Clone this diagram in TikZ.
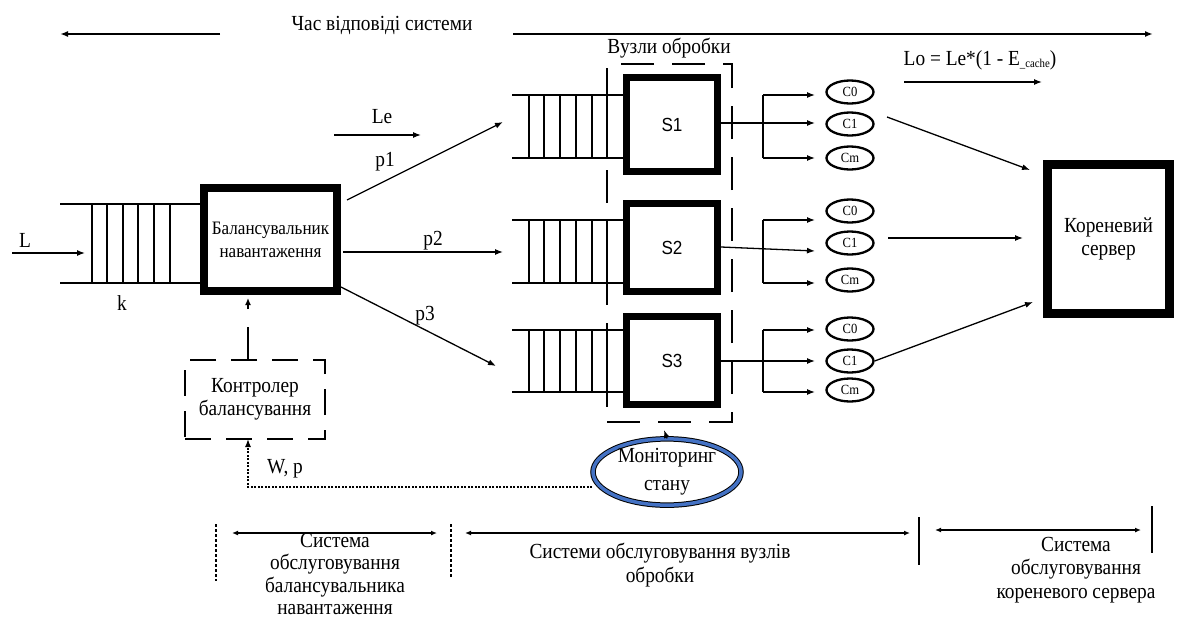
\documentclass[tikz,border=0pt]{standalone}
\usepackage{fontspec}
\setmainfont{Liberation Serif}[FakeStretch=0.9]
\newfontfamily\sansS{Liberation Sans}[FakeStretch=0.9]
\usetikzlibrary{arrows.meta,shapes.geometric,calc}
\definecolor{monblue}{RGB}{68,114,196}
\tikzset{
  ln/.style={line width=1.3pt},
  arr/.style={-{Latex[length=8pt,width=6pt]}},
  darr/.style={line width=1.8pt,{Latex[length=6pt,width=5pt]}-{Latex[length=6pt,width=5pt]}},
  txt/.style={font=\fontsize{21.5}{23.5}\selectfont, align=center, inner sep=0pt},
  thickbox/.style={draw, line width=8pt, inner sep=0pt, align=center},
  sbox/.style={draw, line width=7pt, inner sep=0pt, minimum width=91pt, font=\sansS\fontsize{19}{19}\selectfont},
  cnode/.style={ellipse, draw, line width=2.3pt, minimum width=47pt, minimum height=23pt, inner sep=0pt, font=\fontsize{14}{14}\selectfont},
  longdash/.style={draw, line width=1.5pt, dash pattern=on 30pt off 17pt},
  dotline/.style={line width=1.3pt, dash pattern=on 2pt off 1.5pt},
}
\begin{document}
\begin{tikzpicture}[x=1pt,y=-1pt]
\useasboundingbox (0,0) rectangle (1183,621);

% top
\node[txt] (resp) at (382,25) {Час відповіді системи};
\coordinate (tl1) at (220,34); \coordinate (tl2) at (60,34);
\coordinate (tr1) at (513,34); \coordinate (tr2) at (1153,34);
\draw[line width=2pt,arr] (tl1) -- (tl2);
\draw[line width=2pt,arr] (tr1) -- (tr2);

% balancer
\node[thickbox, minimum width=133pt, minimum height=103pt, font=\fontsize{19}{23}\selectfont] (bal) at (270.5,239.5) {Балансувальник\\навантаження};
\draw[ln] (60,204) -- (bal.west |- 0,204);
\draw[ln] (60,283) -- (bal.west |- 0,283);
\foreach \x in {92,107,123,138,154,170} \draw[ln] (\x,204) -- (\x,283);
\node[txt] (L) at (25,240) {L};
\coordinate (Ls) at (12,253); \coordinate (Le) at (85,253);
\draw[ln,arr] (Ls) -- (Le);
\node[txt] (k) at (122,303) {k};

% controller
\node[longdash, dash pattern=on 26pt off 15pt, minimum width=140pt, minimum height=79pt, txt] (ctrl) at (255,399.5) {Контролер\\балансування};
\coordinate (cu1) at (248,327); \coordinate (cu2) at (248,309); \coordinate (cu3) at (248,298);
\draw[ln] (ctrl.north -| cu1) -- (cu1);
\draw[ln,-{Latex[length=7pt,width=6pt]}] (cu2) -- (cu3);

% processing nodes
\node[longdash, dash pattern=on 33pt off 18pt, minimum width=125pt, minimum height=358pt] (proc) at (669.5,243) {};
\node[txt] (proclbl) at (669,48) {Вузли обробки};
\node[sbox, minimum height=94pt] (S1) at (672,124.5) {S1};
\node[sbox, minimum height=88pt] (S2) at (672,247.5) {S2};
\node[sbox, minimum height=88pt] (S3) at (672,360.5) {S3};
\foreach \s/\a/\b in {S1/95/158, S2/220/283, S3/330/392} {
  \draw[ln] (512,\a) -- (\s.west |- 0,\a);
  \draw[ln] (512,\b) -- (\s.west |- 0,\b);
  \foreach \x in {529,544,560,576,592,607} \draw[ln] (\x,\a) -- (\x,\b);
}

% caches
\foreach \n/\y/\t in {10/92/C0, 11/124/C1, 12/158/Cm, 20/211/C0, 21/243/C1, 22/280/Cm, 30/329/C0, 31/361/C1, 32/390/Cm}
  \node[cnode] (C\n) at (850,\y) {\t};

\foreach \s/\m/\mm/\a/\b in {S1/123/123/95/158, S2/247/251/220/283, S3/361/361/330/392} {
  \draw[ln] (763,\a) -- (763,\b);
  \draw[ln,arr] (\s.east |- 0,\m) -- (815,\mm);
  \draw[ln,arr] (763,\a) -- (815,\a);
  \draw[ln,arr] (763,\b) -- (815,\b);
}

% root server
\node[thickbox, line width=9pt, minimum width=122pt, minimum height=149pt, txt, inner sep=0pt] (root) at (1108.5,239) {Кореневий\\сервер};
\coordinate (r1s) at (887,117); \coordinate (r1e) at (1030,170);
\coordinate (r2s) at (888,238); \coordinate (r2e) at (1023,238);
\coordinate (r3e) at (1033,302);
\draw[ln,arr] (r1s) -- (r1e);
\draw[ln,arr] (r2s) -- (r2e);
\draw[ln,arr] (C31.east) -- (r3e);

\node[txt] (lo) at (980,60) {Lo = Le*(1 - E\raisebox{-2pt}{\fontsize{12}{12}\selectfont\_cache})};
\coordinate (los) at (904,82); \coordinate (loe) at (1042,82);
\draw[ln,arr] (los) -- (loe);

% balancer -> nodes
\node[txt] (lelbl) at (382,117) {Le};
\coordinate (les) at (334,135); \coordinate (lee) at (421,135);
\draw[ln,arr] (les) -- (lee);
\coordinate (p1s) at (347,200); \coordinate (p1e) at (503,122);
\coordinate (p2s) at (343,252); \coordinate (p2e) at (503,252);
\coordinate (p3s) at (341,287); \coordinate (p3e) at (496,366);
\draw[ln,arr] (p1s) -- (p1e);
\draw[ln,arr] (p2s) -- (p2e);
\draw[ln,arr] (p3s) -- (p3e);
\node[txt] (p1) at (385,162) {p1};
\node[txt] (p2) at (433,241) {p2};
\node[txt] (p3) at (425,316) {p3};

% monitoring
\node[ellipse, draw, line width=1pt, double=monblue, double distance=3.5pt, minimum width=148pt, minimum height=48pt, inner sep=0pt, txt, font=\fontsize{21.5}{28}\selectfont] (mon) at (667,472) {Моніторинг\\стану};
\coordinate (mtop) at (664,430);
\draw[ln,arr] (mon.north) -- (mtop);
\coordinate (wp1) at (592,487); \coordinate (wp2) at (248,487); \coordinate (wp3) at (248,439);
\draw[dotline,arr] (wp1) -- (wp2) -- (wp3);
\node[txt] (wp) at (285,469) {W, p};

% bottom
\draw[line width=1.5pt, dash pattern=on 3pt off 2pt] (216,524) -- (216,581);
\draw[line width=1.5pt, dash pattern=on 3pt off 2pt] (451,524) -- (451,577);
\draw[line width=1.5pt] (919,517) -- (919,565);
\draw[line width=1.5pt] (1152,506) -- (1152,553);
\coordinate (b1a) at (232,533); \coordinate (b1b) at (437,533);
\coordinate (b2a) at (465,533); \coordinate (b2b) at (910,533);
\coordinate (b3a) at (935,530); \coordinate (b3b) at (1141,530);
\draw[darr] (b1a) -- (b1b);
\draw[darr] (b2a) -- (b2b);
\draw[darr] (b3a) -- (b3b);
\node[txt, font=\fontsize{21.5}{22.5}\selectfont] (t1) at (335,574) {Система\\обслуговування\\балансувальника\\навантаження};
\node[txt] (t2) at (660,565) {Системи обслуговування вузлів\\обробки};
\node[txt] (t3) at (1076,570) {Система\\обслуговування\\кореневого сервера};
\end{tikzpicture}
\end{document}
